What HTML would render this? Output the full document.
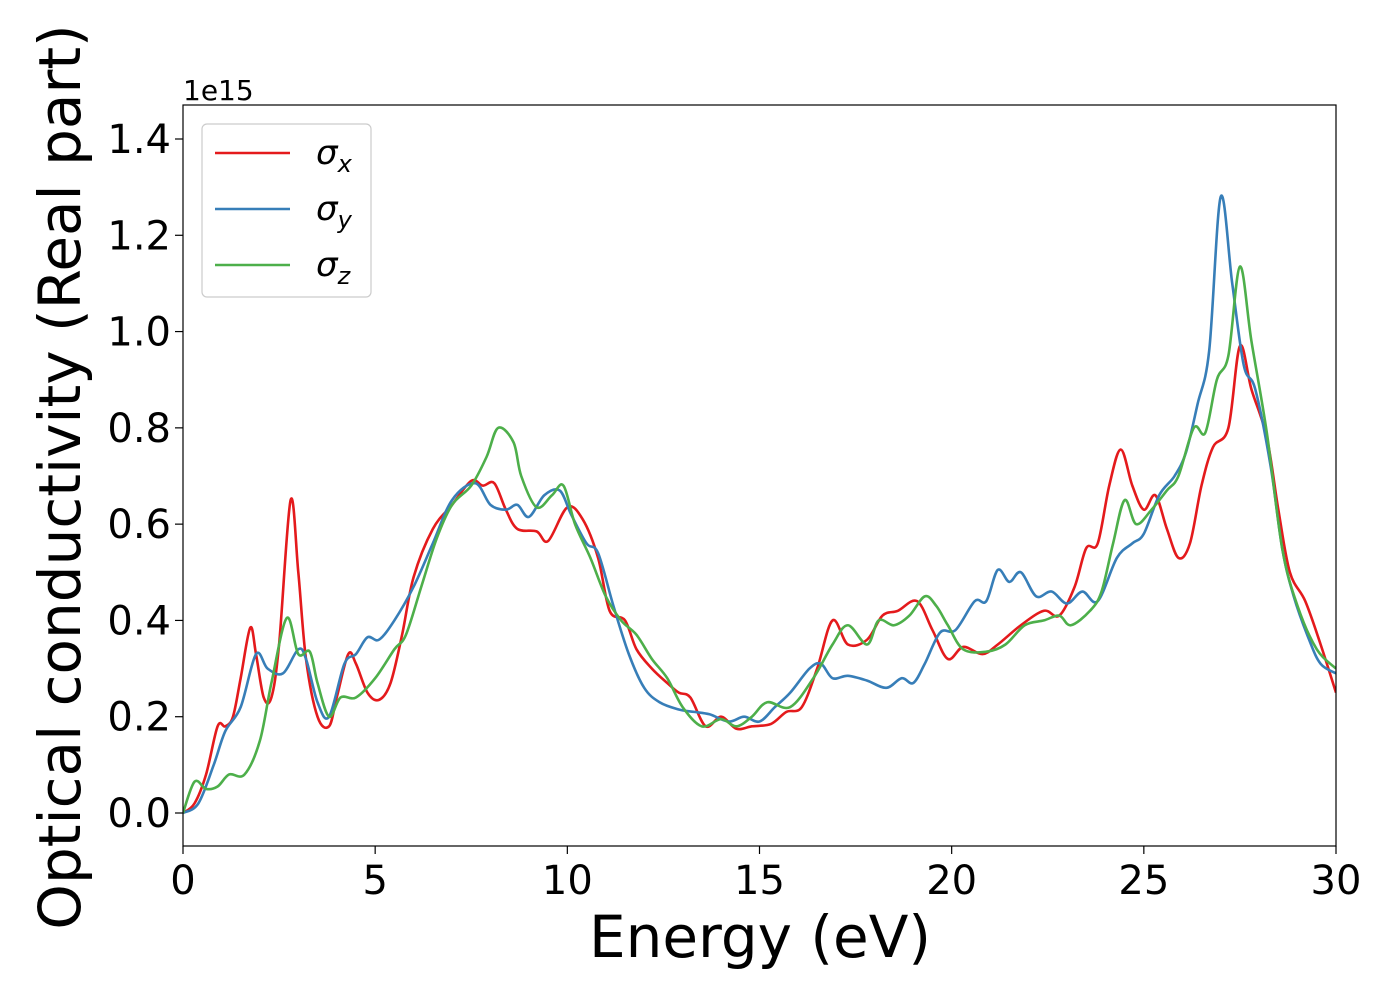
<!DOCTYPE html>
<html><head><meta charset="utf-8"><style>body{margin:0;background:#fff}svg text{font-family:"DejaVu Sans","Liberation Sans",sans-serif}</style></head>
<body>
<svg id="c" width="1400" height="1000" xmlns="http://www.w3.org/2000/svg"></svg>
<script>
const xTicks=[0,5,10,15,20,25,30];
const yTicks=[0.0,0.2,0.4,0.6,0.8,1.0,1.2,1.4];
const sxE=[0,0.3,0.6,0.9,1.1,1.3,1.5,1.75,1.9,2.1,2.3,2.5,2.8,3.0,3.2,3.5,3.8,4.0,4.3,4.5,4.8,5.1,5.4,5.7,6.0,6.5,7.0,7.5,7.8,8.1,8.4,8.7,9.2,9.5,10.0,10.4,10.8,11.1,11.5,11.8,12.2,12.6,12.9,13.2,13.6,14.0,14.4,14.8,15.3,15.7,16.1,16.5,16.9,17.3,17.8,18.2,18.6,19.1,19.5,19.9,20.3,20.8,21.2,21.8,22.4,22.8,23.2,23.5,23.8,24.1,24.4,24.7,25.0,25.3,25.6,25.9,26.2,26.5,26.8,27.2,27.5,27.8,28.2,28.5,28.8,29.2,29.6,30];
const sxV=[0,0.02,0.08,0.18,0.18,0.2,0.28,0.385,0.33,0.24,0.24,0.35,0.65,0.5,0.32,0.2,0.18,0.24,0.33,0.31,0.25,0.235,0.27,0.37,0.49,0.59,0.64,0.69,0.68,0.685,0.63,0.59,0.585,0.565,0.635,0.61,0.53,0.42,0.40,0.34,0.30,0.27,0.25,0.24,0.18,0.2,0.175,0.18,0.185,0.21,0.22,0.3,0.4,0.35,0.36,0.41,0.42,0.44,0.38,0.32,0.345,0.33,0.35,0.39,0.42,0.41,0.47,0.55,0.56,0.68,0.755,0.68,0.63,0.66,0.59,0.53,0.56,0.68,0.76,0.8,0.97,0.88,0.78,0.63,0.5,0.44,0.35,0.25];
const syE=[0,0.4,0.8,1.1,1.5,1.9,2.2,2.6,3.0,3.2,3.5,3.8,4.2,4.5,4.8,5.1,5.5,6.0,6.5,7.0,7.6,8.0,8.4,8.7,9.0,9.4,9.8,10.1,10.5,10.8,11.2,11.6,12.0,12.4,12.9,13.3,13.7,14.2,14.6,15.0,15.4,15.8,16.3,16.6,16.9,17.3,17.8,18.3,18.7,19.0,19.3,19.7,20.1,20.6,20.9,21.2,21.5,21.8,22.2,22.6,23.0,23.4,23.8,24.3,24.7,25.0,25.4,25.8,26.1,26.4,26.7,27.0,27.3,27.6,27.9,28.3,28.6,28.9,29.3,29.6,30];
const syV=[0,0.02,0.1,0.17,0.22,0.33,0.3,0.29,0.34,0.32,0.23,0.2,0.31,0.33,0.365,0.36,0.4,0.47,0.56,0.65,0.685,0.64,0.63,0.64,0.615,0.66,0.67,0.62,0.56,0.54,0.43,0.33,0.26,0.23,0.215,0.21,0.205,0.19,0.2,0.19,0.22,0.25,0.3,0.31,0.28,0.285,0.275,0.26,0.28,0.27,0.31,0.375,0.38,0.44,0.44,0.505,0.48,0.5,0.45,0.46,0.435,0.46,0.44,0.53,0.56,0.58,0.66,0.7,0.75,0.85,0.96,1.28,1.1,0.93,0.88,0.72,0.55,0.45,0.36,0.31,0.29];
const szE=[0,0.3,0.6,0.9,1.2,1.6,2.0,2.3,2.7,3.0,3.3,3.5,3.8,4.1,4.5,5.0,5.5,5.8,6.2,6.6,7.0,7.5,7.9,8.2,8.6,8.8,9.2,9.6,9.9,10.2,10.6,11.0,11.4,11.8,12.2,12.6,13.0,13.5,14.0,14.4,14.8,15.2,15.8,16.4,16.9,17.3,17.8,18.1,18.5,18.9,19.3,19.6,19.9,20.3,20.9,21.4,21.9,22.4,22.8,23.1,23.6,23.9,24.2,24.5,24.8,25.2,25.6,25.9,26.3,26.6,26.9,27.2,27.5,27.8,28.2,28.6,29.0,29.5,30];
const szV=[0,0.065,0.05,0.055,0.08,0.08,0.15,0.27,0.405,0.33,0.335,0.27,0.2,0.24,0.24,0.28,0.34,0.37,0.47,0.57,0.64,0.68,0.74,0.8,0.77,0.7,0.635,0.66,0.68,0.6,0.53,0.45,0.4,0.37,0.32,0.28,0.22,0.18,0.195,0.18,0.2,0.23,0.22,0.28,0.35,0.39,0.35,0.4,0.39,0.41,0.45,0.43,0.39,0.34,0.335,0.35,0.39,0.4,0.41,0.39,0.42,0.46,0.56,0.65,0.6,0.63,0.67,0.7,0.8,0.79,0.9,0.95,1.135,0.98,0.79,0.55,0.43,0.34,0.3];

const svg=document.getElementById('c');const NS='http://www.w3.org/2000/svg';
const L=183,R=1336,T=105,B=846;
const X=e=>L+(R-L)*e/30;
const Y=v=>813-v*(813-139)/1.4;
function mk(t,a,p){const el=document.createElementNS(NS,t);for(const k in a)el.setAttribute(k,a[k]);(p||svg).appendChild(el);return el;}
const cp=mk('clipPath',{id:'clp'});mk('rect',{x:L,y:T,width:R-L,height:B-T},cp);
function path(E,V){const p=E.map((e,i)=>[X(e),Y(V[i])]);let d='M'+p[0][0]+','+p[0][1];
for(let i=0;i<p.length-1;i++){const p0=p[i-1]||p[i],p1=p[i],p2=p[i+1],p3=p[i+2]||p2;
d+=' C'+(p1[0]+(p2[0]-p0[0])/6)+','+(p1[1]+(p2[1]-p0[1])/6)+' '+(p2[0]-(p3[0]-p1[0])/6)+','+(p2[1]-(p3[1]-p1[1])/6)+' '+p2[0]+','+p2[1];}return d;}
const series=[[sxE,sxV,'#e41a1c','sigma-x-line'],[syE,syV,'#377eb8','sigma-y-line'],[szE,szV,'#4daf4a','sigma-z-line']];
series.forEach(s=>{const el=mk('path',{d:path(s[0],s[1]),fill:'none',stroke:s[2],'stroke-width':2.6,'clip-path':'url(#clp)'});

});
const fr=mk('rect',{x:L,y:T,width:R-L,height:B-T,fill:'none',stroke:'#000','stroke-width':1.2});


xTicks.forEach(t=>{mk('line',{x1:X(t),x2:X(t),y1:B,y2:B+8,stroke:'#000','stroke-width':1.2});
const tx=mk('text',{x:X(t),y:B+48,'font-size':40,'text-anchor':'middle'});tx.textContent=t;

});
yTicks.forEach(t=>{mk('line',{x1:L-8,x2:L,y1:Y(t),y2:Y(t),stroke:'#000','stroke-width':1.2});
const tx=mk('text',{x:L-12,y:Y(t)+14,'font-size':40,'text-anchor':'end'});tx.textContent=t.toFixed(1);

});
</script>
<svg width="1400" height="1000" style="position:absolute;left:0;top:0">
<text x="183" y="100" font-size="28">1e15</text>
<text x="760" y="957" font-size="58" text-anchor="middle">Energy (eV)</text>
<text transform="translate(80,477) rotate(-90)" font-size="58" text-anchor="middle">Optical conductivity (Real part)</text>
<g>
<rect x="202" y="124" width="169" height="173" rx="5" fill="#fff" fill-opacity="0.8" stroke="#ccc" stroke-width="1.2"/>
<line x1="215" x2="290" y1="153" y2="153" stroke="#e41a1c" stroke-width="2.6"/>
<line x1="215" x2="290" y1="209" y2="209" stroke="#377eb8" stroke-width="2.6"/>
<line x1="215" x2="290" y1="265" y2="265" stroke="#4daf4a" stroke-width="2.6"/>
<text x="316" y="164" font-size="34" font-style="italic">σ<tspan font-size="24" dy="8">x</tspan></text>
<text x="316" y="220" font-size="34" font-style="italic">σ<tspan font-size="24" dy="8">y</tspan></text>
<text x="316" y="276" font-size="34" font-style="italic">σ<tspan font-size="24" dy="8">z</tspan></text>
</g>
</svg>
</body></html>
